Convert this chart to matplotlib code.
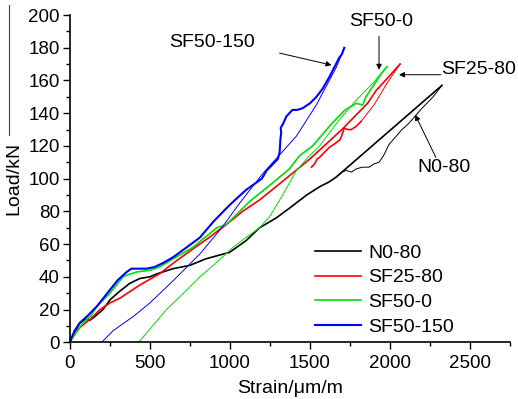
import matplotlib
matplotlib.use("Agg")
import matplotlib.pyplot as plt
from matplotlib.lines import Line2D
from matplotlib.ticker import MultipleLocator

plt.rcParams['font.family'] = ['Liberation Sans', 'DejaVu Sans']

# N0-80: loading path, then wiggly branch up to peak
n0_load_x = [0, 30, 64, 100, 127, 160, 208, 252, 310, 375, 438, 500, 550, 646, 750, 850,
             999, 1100, 1186, 1290, 1373, 1480, 1560, 1620, 1665, 2325]
n0_load_y = [0, 6, 12, 14, 13.5, 16, 20, 26, 31, 36, 39, 40, 42, 45, 47, 51,
             55, 62, 70, 76, 82, 90, 95, 98, 101, 157]
n0_thin_x = [1665, 1700, 1728, 1760, 1790, 1827, 1870, 1900, 1932, 1960, 1995, 2040,
             2075, 2110, 2138, 2200, 2270, 2325]
n0_thin_y = [101, 104, 105, 104, 106, 107, 107, 109, 110, 114, 121, 126,
             130, 133, 136, 143, 150, 157]

# SF25-80
sf25_load_x = [0, 30, 64, 100, 127, 189, 250, 314, 438, 563, 669, 769, 870, 979, 1080,
               1186, 1300, 1400, 1500, 1600, 1700, 1800, 1860, 1915, 1990, 2063]
sf25_load_y = [0, 5, 9, 12, 14, 20, 24, 27, 35, 42, 50, 57, 64, 72, 80,
               87, 96, 104, 112, 121, 130, 140, 146, 154, 162, 170]
sf25_jag_x = [1510, 1530, 1545, 1560, 1590, 1620, 1650, 1665, 1690, 1705, 1715, 1735,
              1758, 1790, 1820]
sf25_jag_y = [107, 109, 112, 113, 116, 119, 121, 122, 124, 128, 131, 130,
              130, 132, 135]
sf25_thin_x = [1820, 1900, 1980, 2063]
sf25_thin_y = [135, 145, 158, 170]

# SF50-0
sf50_load_x = [0, 40, 84, 130, 170, 251, 333, 356, 420, 500, 560, 646, 769, 918, 979,
               1123, 1250, 1373, 1435, 1517, 1640, 1720, 1790, 1830, 1850, 1952, 1983]
sf50_load_y = [0, 6, 12, 16, 22, 30, 40, 41, 43, 44, 46, 51, 58, 70, 72,
               86, 96, 106, 114, 120, 134, 142, 146, 145, 150, 165, 168.5]
sf50_unl_x = [430, 500, 604, 700, 813, 920, 1019, 1100, 1186, 1250, 1330, 1416, 1498,
              1560, 1684, 1790, 1890, 1983]
sf50_unl_y = [0, 8, 20, 29, 40, 49, 58, 64, 70, 77, 90, 105, 114,
              120, 136, 148, 158, 168.5]

# SF50-150
sf150_load_x = [0, 30, 64, 110, 170, 251, 300, 356, 386, 480, 530, 584, 646, 730, 813,
                900, 1000, 1100, 1200, 1230, 1260, 1300, 1311, 1316, 1321, 1318, 1335,
                1353, 1391, 1420, 1454, 1500, 1541, 1580, 1621, 1684, 1700, 1715]
sf150_load_y = [0, 7, 12, 16, 22, 32, 38, 43, 45, 45, 46, 48.5, 52, 58, 64,
                74, 84, 93, 100, 105, 108, 112, 116, 124, 128, 131, 134,
                138, 142, 142, 143, 146, 150, 155, 162, 174, 176, 180]
sf150_unl_x = [200, 270, 400, 500, 650, 813, 950, 1061, 1205, 1416, 1540, 1665, 1715]
sf150_unl_y = [0, 7, 16, 24, 38, 54, 70, 85, 103, 126, 145, 168, 180]

labels = ['N0-80', 'SF25-80', 'SF50-0', 'SF50-150']
colors = ['black', '#ff0000', '#00e000', '#0000ff']

fig = plt.figure(figsize=(5.18, 3.99), dpi=100)
ax = fig.add_axes([69.7 / 518, 1 - 342.3 / 399, 440.3 / 518, 327.3 / 399])

thick, thin = 1.2, 0.7
ax.plot(n0_load_x, n0_load_y, color=colors[0], lw=thick, label=labels[0])
ax.plot(n0_thin_x, n0_thin_y, color=colors[0], lw=thin)
ax.plot(sf25_load_x, sf25_load_y, color=colors[1], lw=thick, label=labels[1])
ax.plot(sf25_jag_x, sf25_jag_y, color=colors[1], lw=thick)
ax.plot(sf25_thin_x, sf25_thin_y, color=colors[1], lw=thin)
ax.plot(sf50_load_x, sf50_load_y, color=colors[2], lw=thick, label=labels[2])
ax.plot(sf50_unl_x, sf50_unl_y, color=colors[2], lw=thin)
ax.plot(sf150_load_x, sf150_load_y, color=colors[3], lw=thick + 0.3, label=labels[3])
ax.plot(sf150_unl_x, sf150_unl_y, color=colors[3], lw=thin)

ax.set_xlim(0, 2750)
ax.set_ylim(0, 200)
ax.xaxis.set_major_locator(MultipleLocator(500))
ax.xaxis.set_minor_locator(MultipleLocator(250))
ax.yaxis.set_major_locator(MultipleLocator(20))
ax.yaxis.set_minor_locator(MultipleLocator(10))
ax.tick_params(which='major', direction='out', length=5, width=1, labelsize=13.5, pad=2)
ax.tick_params(axis='x', which='major', pad=4)
ax.tick_params(which='minor', direction='out', length=3, width=1)
for side in ['top', 'right']:
    ax.spines[side].set_visible(False)
for side in ['left', 'bottom']:
    ax.spines[side].set_linewidth(1.2)

ax.set_xlabel('Strain/\u03bcm/m', fontsize=14, labelpad=6)
ax.set_ylabel('Load/kN', fontsize=14)
ax.yaxis.set_label_coords(-0.108, 0.5)
# thin rule above the y label, as in the source image
fig.add_artist(Line2D([9 / 518, 9 / 518], [1 - 5 / 399, 1 - 135 / 399],
                      transform=fig.transFigure, color='#444444', lw=0.8))

# annotations
arrow = dict(arrowstyle='-|>', color='black', lw=0.7, mutation_scale=8, shrinkA=0, shrinkB=0)
ax.annotate('', xy=(1635, 169.4), xytext=(1311, 176.7), arrowprops=arrow)
ax.annotate('', xy=(1932, 166.5), xytext=(1932, 187), arrowprops=arrow)
ax.annotate('', xy=(2057, 163.5), xytext=(2318, 163.5), arrowprops=arrow)
ax.annotate('', xy=(2158, 139), xytext=(2287, 113), arrowprops=arrow)
ax.text(886, 183, 'SF50-150', fontsize=14, ha='center', va='center')
ax.text(1945, 196, 'SF50-0', fontsize=14, ha='center', va='center')
ax.text(2555, 166.5, 'SF25-80', fontsize=14, ha='center', va='center')
ax.text(2337, 106.6, 'N0-80', fontsize=14, ha='center', va='center')

ax.legend(loc='upper left', bbox_to_anchor=(315 / 518, 1 - 244 / 399),
          bbox_transform=fig.transFigure, frameon=False, fontsize=14,
          handlelength=2.37, handletextpad=0.36, labelspacing=0.37, borderpad=0,
          borderaxespad=0)

fig.savefig('out.png', dpi=100)
